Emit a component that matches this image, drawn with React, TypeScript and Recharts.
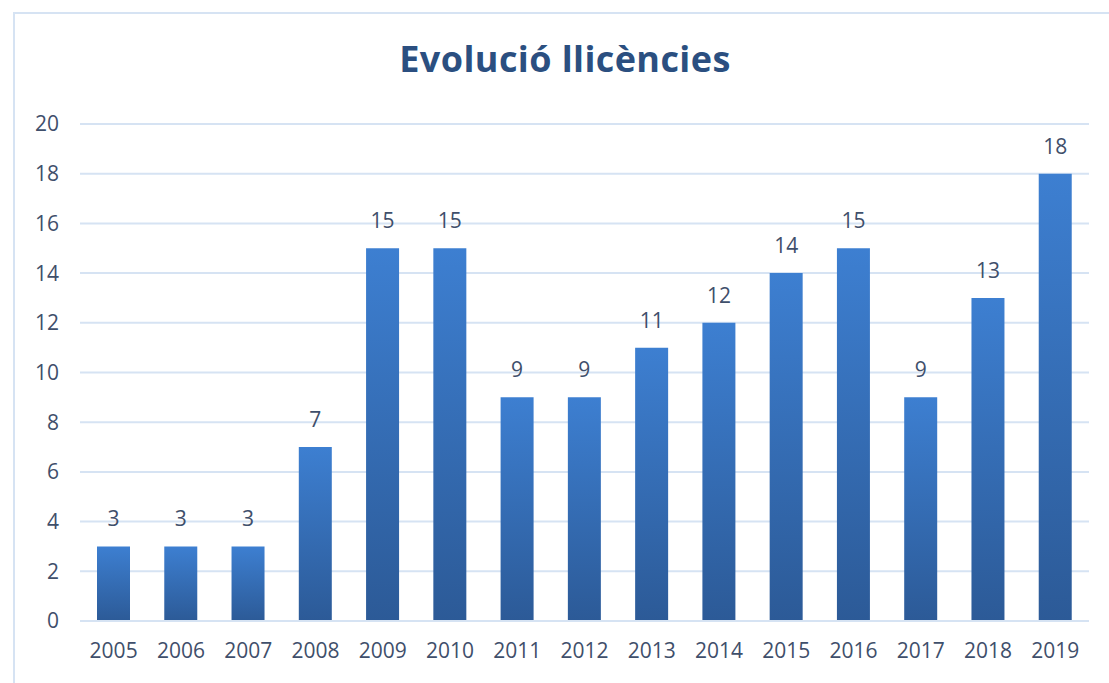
import React from "react";
import { BarChart, Bar, XAxis, YAxis, CartesianGrid, LabelList } from "recharts";

const years = ["2005","2006","2007","2008","2009","2010","2011","2012","2013","2014","2015","2016","2017","2018","2019"];
const licences = [3,3,3,7,15,15,9,9,11,12,14,15,9,13,18];
const yTicks = [0,2,4,6,8,10,12,14,16,18,20];

const data = years.map((y, i) => ({ year: y, value: licences[i] }));

const FONT = "'Open Sans', sans-serif";
const TEXT = "#3f4f6b";

export default function App() {
  return (
    <div style={{ position: "absolute", left: 0, top: 0, width: 1109, height: 683, background: "#fff", overflow: "hidden", fontFamily: FONT }}>
      <div style={{ position: "absolute", left: 13, top: 12, width: 1200, height: 800, border: "2px solid #d6e3f3", boxSizing: "border-box" }} />
      <div style={{ position: "absolute", left: 0, top: 41, width: 1130, textAlign: "center", fontSize: 36, lineHeight: 1, letterSpacing: 0.4, fontWeight: 700, color: "#2b4f80" }}>
        Evolució llicències
      </div>
      <div style={{ position: "absolute", left: 0, top: 0 }}>
        <BarChart width={1109} height={683} data={data} margin={{ top: 124, right: 20, bottom: 0, left: 0 }} barSize={33}>
          <defs>
            <linearGradient id="barGrad" x1="0" y1="0" x2="0" y2="1">
              <stop offset="0%" stopColor="#3d7fd1" />
              <stop offset="100%" stopColor="#2c5a97" />
            </linearGradient>
          </defs>
          <CartesianGrid vertical={false} stroke="#d6e3f3" strokeWidth={2} />
          <XAxis dataKey="year" axisLine={{ stroke: "#d6e3f3", strokeWidth: 2 }} tickLine={false} tickMargin={16} height={62}
            tick={{ fill: TEXT, fontSize: 21, fontFamily: FONT }} interval={0} />
          <YAxis domain={[0, 20]} ticks={yTicks} axisLine={false} tickLine={false} width={80} tickMargin={15}
            tick={{ fill: TEXT, fontSize: 21, fontFamily: FONT }} interval={0} />
          <Bar dataKey="value" fill="url(#barGrad)" isAnimationActive={false}>
            <LabelList dataKey="value" position="top" offset={20} fill={TEXT} fontSize={21} fontFamily={FONT} />
          </Bar>
        </BarChart>
      </div>
    </div>
  );
}
